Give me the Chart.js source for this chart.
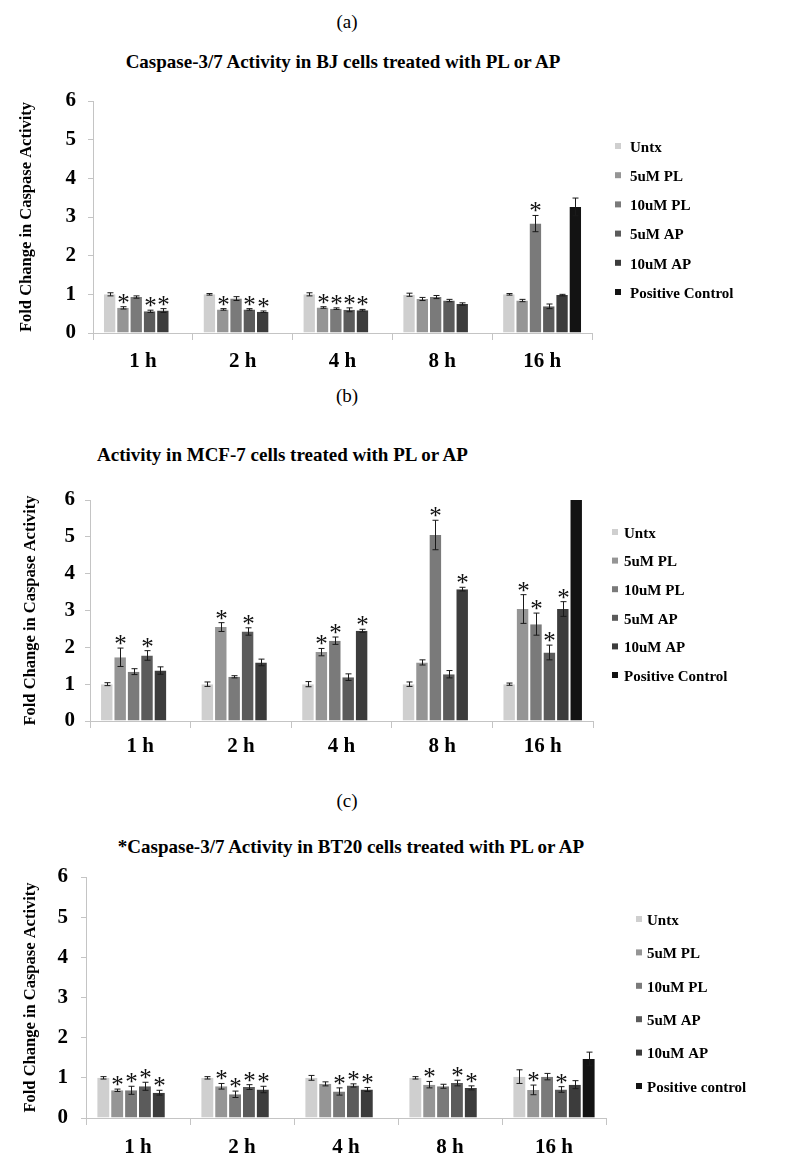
<!DOCTYPE html>
<html lang="en">
<head>
<meta charset="UTF-8">
<title>Caspase-3/7 Activity</title>
<script src="https://cdn.jsdelivr.net/npm/chart.js"></script>
<style>
  body { margin:0; background:#fff; width:795px; height:1172px; position:relative; overflow:hidden;
         font-family:"Liberation Serif","Times New Roman",serif; color:#000; }
  .lbl { position:absolute; font-size:19px; transform:translate(-50%,-50%); white-space:nowrap; }
  .ttl { position:absolute; font-size:19px; font-weight:bold; white-space:nowrap; transform:translate(-50%,-50%); }
  canvas { position:absolute; left:0; }
</style>
</head>
<body>
<div class="lbl" style="left:347px;top:22px">(a)</div>
<div class="ttl" style="left:343px;top:62px">Caspase-3/7 Activity in BJ cells treated with PL or AP</div>
<canvas id="chartA" width="795" height="380" style="top:0"></canvas>

<div class="lbl" style="left:347px;top:396px">(b)</div>
<div class="ttl" style="left:97px;top:455px;transform:translateY(-50%)">Activity in MCF-7 cells treated with PL or AP</div>
<canvas id="chartB" width="795" height="390" style="top:380px"></canvas>

<div class="lbl" style="left:347px;top:801px">(c)</div>
<div class="ttl" style="left:351px;top:847px">*Caspase-3/7 Activity in BT20 cells treated with PL or AP</div>
<canvas id="chartC" width="795" height="402" style="top:770px"></canvas>

<script>
// time points and treatment groups
const timepoints = ['1 h', '2 h', '4 h', '8 h', '16 h'];
const groupsAB = ['Untx', '5uM PL', '10uM PL', '5uM AP', '10uM AP', 'Positive Control'];
const groupsC = ['Untx', '5uM PL', '10uM PL', '5uM AP', '10uM AP', 'Positive control'];
const yTicks = [0, 1, 2, 3, 4, 5, 6];

// (a) BJ cells: one row per group, one value per time point
const bjMeans = [
  [1.00, 1.00, 1.00, 0.99, 1.00],
  [0.65, 0.61, 0.66, 0.88, 0.84],
  [0.93, 0.89, 0.63, 0.93, 2.83],
  [0.56, 0.61, 0.60, 0.84, 0.69],
  [0.58, 0.55, 0.59, 0.75, 0.98],
  [null, null, null, null, 3.26]
];
const bjErrors = [
  [0.04, 0.02, 0.04, 0.04, 0.02],
  [0.03, 0.02, 0.02, 0.04, 0.03],
  [0.03, 0.05, 0.02, 0.04, 0.21],
  [0.03, 0.02, 0.05, 0.03, 0.06],
  [0.05, 0.02, 0.02, 0.03, 0.02],
  [0, 0, 0, 0, 0.23]
];
const bjStars = [
  [0, 0, 0, 0, 0],
  [1, 1, 1, 0, 0],
  [0, 0, 1, 0, 1],
  [1, 1, 1, 0, 0],
  [1, 1, 1, 0, 0],
  [0, 0, 0, 0, 0]
];

// (b) MCF-7 cells
const mcfMeans = [
  [1.00, 1.00, 1.00, 1.00, 1.00],
  [1.73, 2.55, 1.87, 1.59, 3.04],
  [1.34, 1.20, 2.18, 5.05, 2.63],
  [1.78, 2.43, 1.19, 1.27, 1.86],
  [1.37, 1.59, 2.45, 3.58, 3.04],
  [null, null, null, null, 6.00]
];
const mcfErrors = [
  [0.04, 0.06, 0.07, 0.06, 0.03],
  [0.25, 0.12, 0.10, 0.07, 0.39],
  [0.08, 0.03, 0.10, 0.40, 0.30],
  [0.13, 0.10, 0.09, 0.10, 0.20],
  [0.10, 0.09, 0.04, 0.05, 0.20],
  [0, 0, 0, 0, 0]
];
const mcfStars = [
  [0, 0, 0, 0, 0],
  [1, 1, 1, 0, 1],
  [0, 0, 1, 1, 1],
  [1, 1, 0, 0, 1],
  [0, 0, 1, 1, 1],
  [0, 0, 0, 0, 0]
];

// (c) BT20 cells
const btMeans = [
  [1.00, 1.00, 1.00, 1.00, 1.03],
  [0.69, 0.79, 0.85, 0.83, 0.70],
  [0.69, 0.59, 0.66, 0.79, 1.03],
  [0.79, 0.77, 0.81, 0.87, 0.71],
  [0.63, 0.71, 0.71, 0.75, 0.83],
  [null, null, null, null, 1.47]
];
const btErrors = [
  [0.03, 0.03, 0.06, 0.03, 0.17],
  [0.03, 0.07, 0.05, 0.08, 0.12],
  [0.10, 0.08, 0.09, 0.05, 0.08],
  [0.10, 0.06, 0.04, 0.07, 0.07],
  [0.06, 0.08, 0.05, 0.05, 0.10],
  [0, 0, 0, 0, 0.17]
];
const btStars = [
  [0, 0, 0, 0, 0],
  [1, 1, 0, 1, 1],
  [1, 1, 1, 0, 0],
  [1, 1, 1, 1, 1],
  [1, 1, 1, 1, 0],
  [0, 0, 0, 0, 0]
];

const barColors = ['#cfcfcf', '#959595', '#7a7a7a', '#5b5b5b', '#3c3c3c', '#131313'];
const serif = '"Liberation Serif", "Times New Roman", serif';
const axisGrey = '#c4c4c4';

// error bars + significance stars, drawn from the bar elements
const errorBars = {
  id: 'errorBars',
  afterDatasetsDraw(chart) {
    const ctx = chart.ctx;
    const y = chart.scales.y;
    const fs = 25;
    ctx.save();
    ctx.font = fs + 'px ' + serif;
    ctx.textAlign = 'center';
    ctx.textBaseline = 'alphabetic';
    chart.data.datasets.forEach((ds, i) => {
      chart.getDatasetMeta(i).data.forEach((bar, j) => {
        const v = ds.data[j];
        if (v == null) return;
        const e = ds.errors[j] || 0;
        const x = Math.round(bar.x) + 0.5;
        const top = y.getPixelForValue(v + e);
        if (e > 0) {
          const bot = y.getPixelForValue(v - e);
          ctx.strokeStyle = '#1a1a1a';
          ctx.lineWidth = 1;
          ctx.beginPath();
          ctx.moveTo(x, top); ctx.lineTo(x, bot);
          ctx.moveTo(x - 3, top); ctx.lineTo(x + 3, top);
          ctx.moveTo(x - 3, bot); ctx.lineTo(x + 3, bot);
          ctx.stroke();
        }
        if (ds.stars[j]) {
          ctx.fillStyle = '#111';
          ctx.fillText('*', x, top - 8 + 0.48 * fs);
        }
      });
    });
    ctx.restore();
  }
};

// little square legend at a fixed spot
const sideLegend = {
  id: 'sideLegend',
  afterDraw(chart, args, opts) {
    const ctx = chart.ctx;
    ctx.save();
    ctx.font = 'bold 15px ' + serif;
    ctx.textBaseline = 'middle';
    ctx.textAlign = 'left';
    chart.data.datasets.forEach((ds, i) => {
      const yy = opts.y + i * opts.step;
      ctx.fillStyle = ds.backgroundColor;
      ctx.fillRect(opts.x, yy - 4, 6, 6);
      ctx.fillStyle = '#000';
      ctx.fillText(ds.label, opts.textX, yy + 1);
    });
    ctx.restore();
  }
};

function makeChart(id, names, means, errors, stars, box) {
  const datasets = names.map((name, i) => ({
    label: name,
    data: means[i],
    errors: errors[i],
    stars: stars[i],
    backgroundColor: barColors[i],
    borderColor: '#ffffff',
    borderWidth: { left: 1, right: 1, top: 0, bottom: 0 },
    borderSkipped: false,
    categoryPercentage: 0.8,
    barPercentage: 1.0
  }));
  return new Chart(document.getElementById(id), {
    type: 'bar',
    data: { labels: timepoints, datasets: datasets },
    options: {
      responsive: false,
      animation: false,
      devicePixelRatio: 1,
      layout: { padding: { left: 0, top: box.top, right: 795 - box.right, bottom: 0 } },
      plugins: {
        legend: { display: false },
        tooltip: { enabled: false },
        sideLegend: box.legend
      },
      scales: {
        x: {
          grid: { display: true, drawOnChartArea: false, offset: true, tickLength: 7, color: axisGrey },
          border: { display: true, color: axisGrey },
          ticks: { color: '#000', padding: box.xPad, font: { family: serif, size: 21, weight: 'bold' } },
          afterFit: s => { s.height = box.canvasH - box.bottom; }
        },
        y: {
          min: 0, max: 6,
          afterBuildTicks: s => { s.ticks = yTicks.map(v => ({ value: v })); },
          grid: { display: true, drawOnChartArea: false, tickLength: 5, color: axisGrey },
          border: { display: true, color: axisGrey },
          ticks: { color: '#000', padding: box.yPad, font: { family: serif, size: 21, weight: 'bold' } },
          title: {
            display: true,
            text: 'Fold Change in Caspase Activity',
            color: '#000',
            font: { family: serif, size: 16.5, weight: 'bold' },
            padding: { top: box.titleX - 9.9, bottom: 0 }
          },
          afterFit: s => { s.width = box.left; }
        }
      }
    },
    plugins: [errorBars, sideLegend]
  });
}

makeChart('chartA', groupsAB, bjMeans, bjErrors, bjStars, {
  canvasH: 380, left: 93, right: 592, top: 101, bottom: 333,
  xPad: 9, yPad: 12, titleX: 27,
  legend: { x: 615, textX: 630, y: 147, step: 29.2 }
});
makeChart('chartB', groupsAB, mcfMeans, mcfErrors, mcfStars, {
  canvasH: 390, left: 90, right: 593, top: 120, bottom: 341,
  xPad: 6, yPad: 10, titleX: 31,
  legend: { x: 612, textX: 624, y: 153, step: 28.6 }
});
makeChart('chartC', groupsC, btMeans, btErrors, btStars, {
  canvasH: 402, left: 86, right: 606, top: 107, bottom: 348,
  xPad: 10, yPad: 13, titleX: 31,
  legend: { x: 636, textX: 647, y: 150, step: 33.4 }
});
</script>
</body>
</html>
